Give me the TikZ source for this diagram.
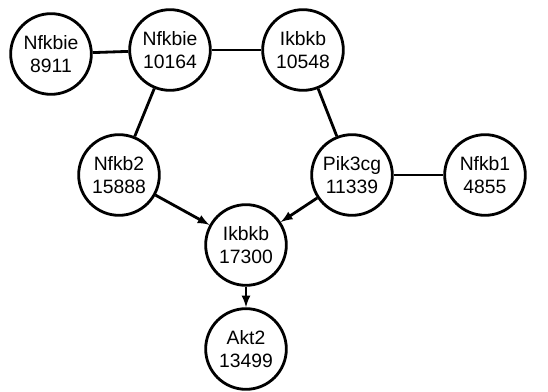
\documentclass[tikz,border=0pt]{standalone}
\usepackage{fontspec}
\setmainfont{Liberation Sans}

\begin{document}
\begin{tikzpicture}[x=0.03cm,y=0.03cm,>=latex,
    gene/.style={draw,circle,line width=2.4pt,minimum size=2.42cm,inner sep=0pt,
      align=center,font=\fontsize{16.5}{20}\selectfont},
    link/.style={line width=2.4pt}]
  \useasboundingbox (0,0) rectangle (548,392);
  \node[gene] (nfkbieA) at (51,338) {Nfkbie\\8911};
  \node[gene] (nfkbieB) at (170,342) {Nfkbie\\10164};
  \node[gene] (ikbkbA) at (303,342) {Ikbkb\\10548};
  \node[gene] (nfkbtwo) at (119,217) {Nfkb2\\15888};
  \node[gene] (pik) at (352,217) {Pik3cg\\11339};
  \node[gene] (nfkbone) at (485,217) {Nfkb1\\4855};
  \node[gene] (ikbkbB) at (246,147) {Ikbkb\\17300};
  \node[gene] (akt) at (246,43) {Akt2\\13499};
  \draw [link] (nfkbieA) -- (nfkbieB);
  \draw [link] (nfkbieB) -- (ikbkbA);
  \draw [link] (nfkbieB) -- (nfkbtwo);
  \draw [link] (ikbkbA) -- (pik);
  \draw [link] (pik) -- (nfkbone);
  \draw [link,->] (nfkbtwo) -- (ikbkbB);
  \draw [link,->] (pik) -- (ikbkbB);
  \draw [link,->] (ikbkbB) -- (akt);
\end{tikzpicture}
\end{document}
